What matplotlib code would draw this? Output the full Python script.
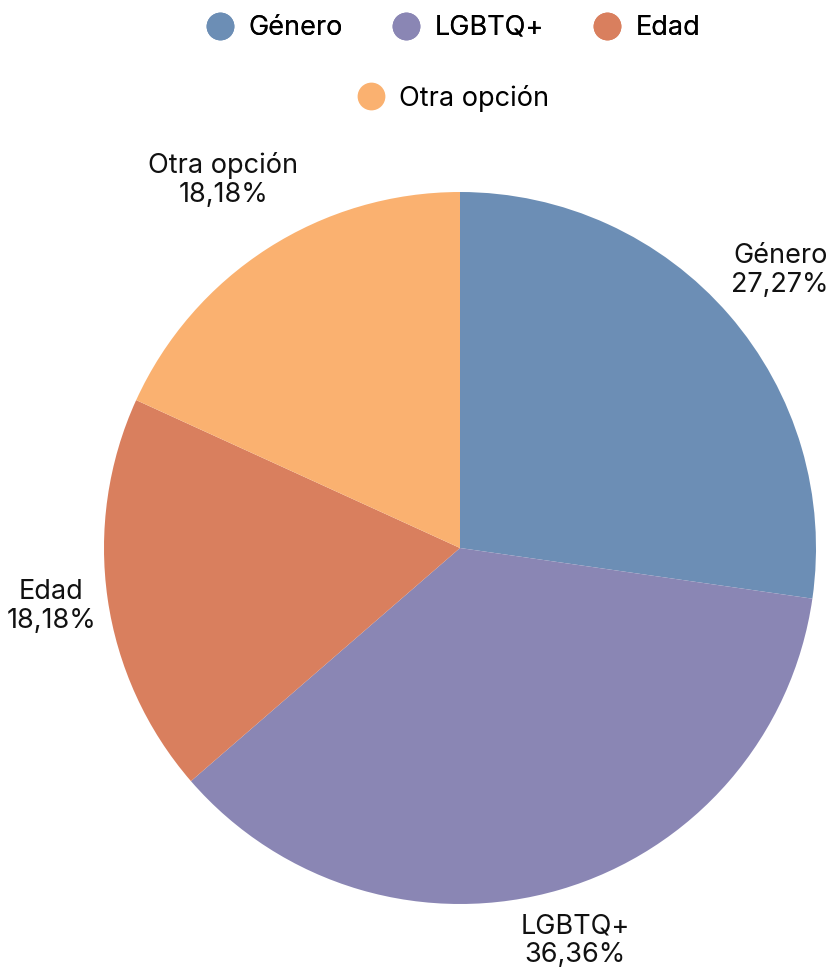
import numpy as np
import matplotlib.pyplot as plt
from matplotlib.lines import Line2D

plt.rcParams['font.family'] = ['Inter', 'DejaVu Sans']

# datos
categorias = ['Género', 'LGBTQ+', 'Edad', 'Otra opción']
valores = [27.27, 36.36, 18.18, 18.18]
colores = ['#6C8EB5', '#8A86B4', '#D97F5E', '#FAB170']
dist_etiquetas = [1.19, 1.15, 1.16, 1.23]

W, H = 831, 972
fig = plt.figure(figsize=(W / 100, H / 100), dpi=100)

# pie centrado en (460, 548) px con radio 356 px
cx, cy, r = 460, 548, 356
ax = fig.add_axes([(cx - r) / W, (H - cy - r) / H, 2 * r / W, 2 * r / H])

wedges, _ = ax.pie(valores, colors=colores, startangle=90, counterclock=False,
                   radius=1, wedgeprops=dict(linewidth=0))
ax.set_xlim(-1, 1)
ax.set_ylim(-1, 1)
ax.set_aspect('equal')
ax.axis('off')

# etiquetas exteriores
for w, cat, v, d in zip(wedges, categorias, valores, dist_etiquetas):
    ang = np.deg2rad((w.theta1 + w.theta2) / 2)
    txt = f"{cat}\n{v:.2f}%".replace('.', ',')
    ax.text(d * np.cos(ang), d * np.sin(ang), txt, ha='center', va='center',
            fontsize=19.5, color='#111111', linespacing=1.15, clip_on=False)

# leyenda en dos filas centradas
def handles(idx):
    return [Line2D([], [], marker='o', linestyle='', markersize=20,
                   markerfacecolor=colores[i], markeredgewidth=0) for i in idx]

x_leg = 452 / W
leg1 = fig.legend(handles([0, 1, 2]), categorias[:3], loc='center',
                  bbox_to_anchor=(x_leg, 1 - 28 / H), ncol=3, frameon=False,
                  fontsize=19.5, handletextpad=0.45, columnspacing=1.75,
                  handlelength=1.2)
fig.legend(handles([3]), categorias[3:], loc='center',
           bbox_to_anchor=(x_leg, 1 - 98 / H), ncol=1, frameon=False,
           fontsize=19.5, handletextpad=0.45, handlelength=1.2)
fig.add_artist(leg1)

fig.savefig('out.png', dpi=100)
